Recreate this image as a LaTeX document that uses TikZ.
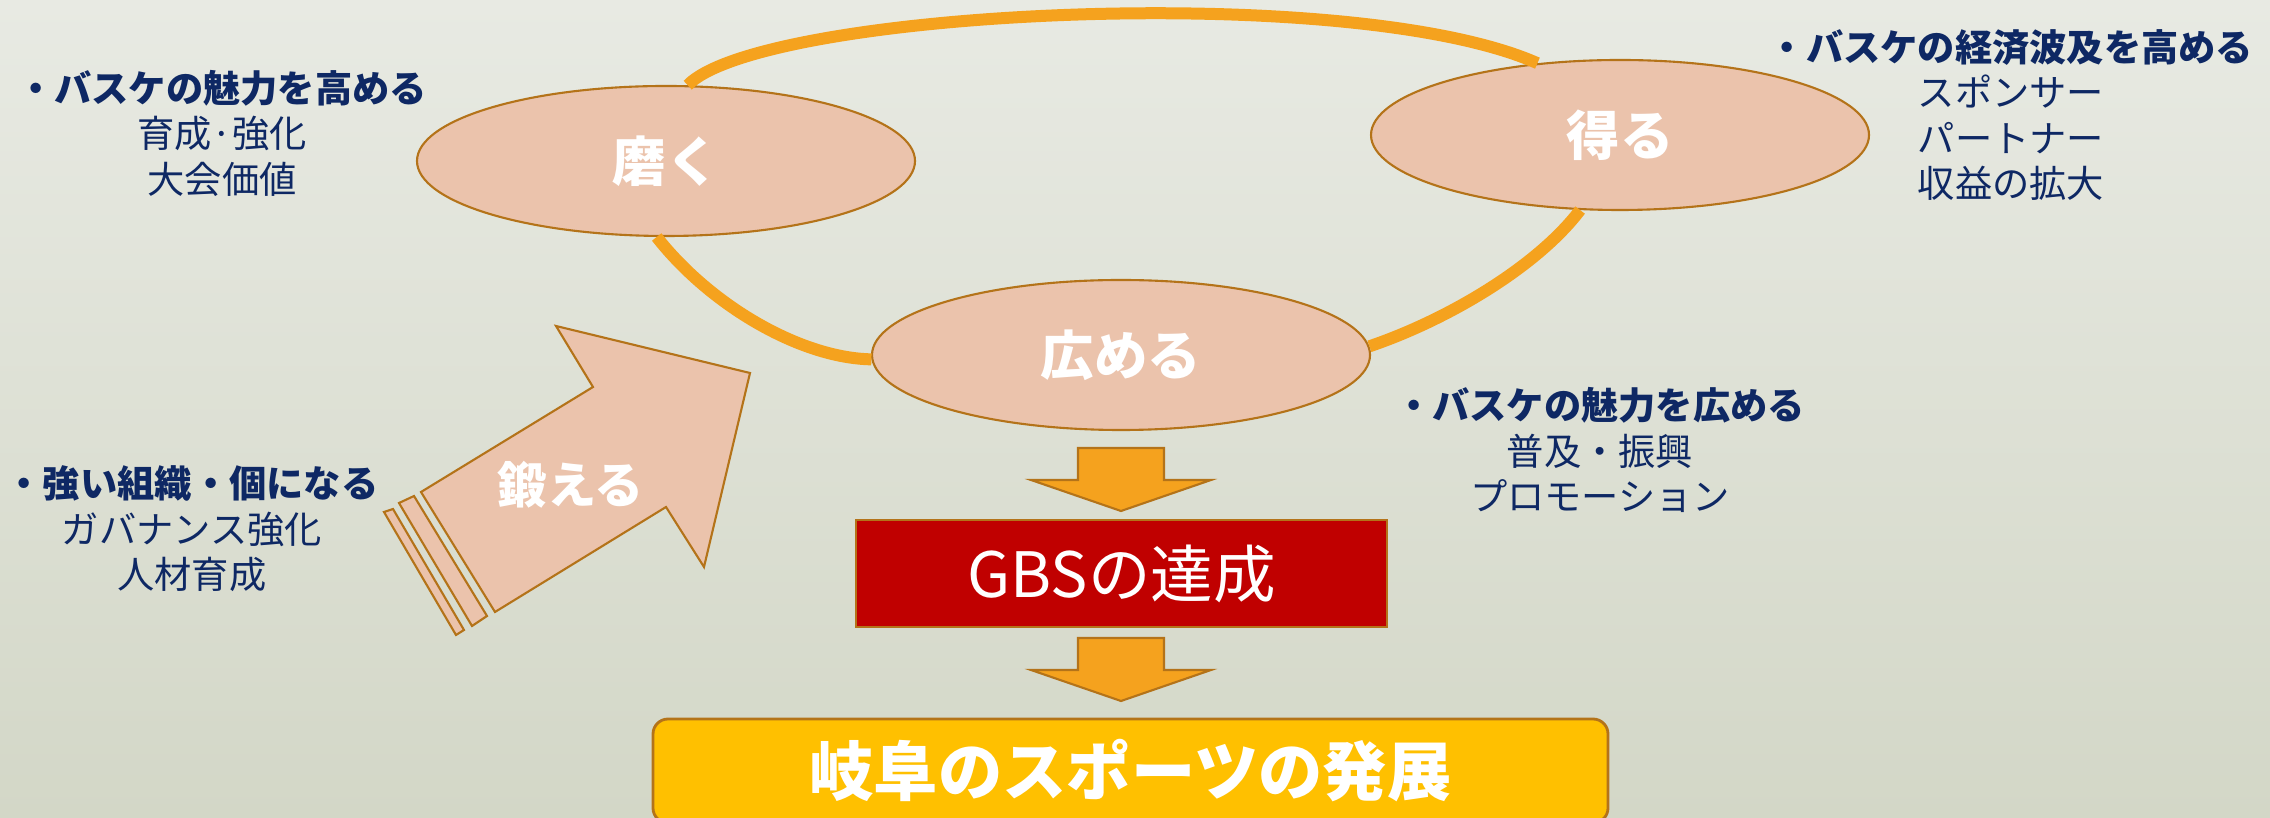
\documentclass[tikz,border=0pt]{standalone}
\usepackage{fontspec}
\setmainfont{Noto Sans CJK JP}
\usetikzlibrary{shapes.geometric}
\definecolor{bgtop}{RGB}{232,234,227}
\definecolor{bgbottom}{RGB}{211,215,199}
\definecolor{petal}{RGB}{235,195,172}
\definecolor{rim}{RGB}{180,115,25}
\definecolor{loopcol}{RGB}{245,162,30}
\definecolor{navy}{RGB}{14,40,100}
\definecolor{gbsred}{RGB}{192,0,0}
\definecolor{gold}{RGB}{255,192,0}

\begin{document}
\begin{tikzpicture}[
	petalnode/.style={ellipse, draw=rim, line width=0.6pt, fill=petal, minimum width=4.98cm, minimum height=1.5cm, text=white, font=\fontsize{15.2}{18}\selectfont\bfseries},
	loopline/.style={draw=loopcol, line width=0.12cm},
	caption/.style={align=center, text=navy, inner sep=0pt, font=\fontsize{10.6}{12.95}\selectfont},
	blockarrow/.style={fill=petal, draw=rim, line width=0.6pt},
	downarrow/.style={fill=loopcol, draw=rim, line width=0.6pt}]
	\useasboundingbox (0,0) rectangle (22.70,-8.18);
	\clip (0,0) rectangle (22.70,-8.18);
	\fill[top color=bgtop, bottom color=bgbottom] (0,0) rectangle (22.70,-8.18);

	\node[petalnode] (migaku) at (6.66,-1.61) {磨く};
	\node[petalnode] (eru) at (16.20,-1.35) {得る};
	\node[petalnode] (hiromeru) at (11.21,-3.55) {広める};

	\draw[loopline] (migaku.74) .. controls (7.60,-0.10) and (13.50,0.20) .. (eru.139);
	\draw[loopline] (migaku.263) .. controls (7.10,-3.05) and (8.00,-3.58) .. (hiromeru.181);
	\draw[loopline] (eru.242) .. controls (15.37,-2.67) and (14.47,-3.20) .. (hiromeru.2);

	\draw[blockarrow] (5.56,-3.26) -- (7.50,-3.73) -- (7.04,-5.67) -- (6.66,-5.07) -- (4.95,-6.12) -- (4.21,-4.92) -- (5.93,-3.87) -- cycle;
	\draw[blockarrow] (3.99,-5.03) -- (4.14,-4.96) -- (4.87,-6.16) -- (4.72,-6.26) -- cycle;
	\draw[blockarrow] (3.84,-5.12) -- (3.93,-5.09) -- (4.64,-6.30) -- (4.56,-6.35) -- cycle;
	\node[text=white, font=\fontsize{14}{16}\selectfont\bfseries] (kitaeru) at (5.71,-4.85) {鍛える};

	\foreach \y in {4.48,6.38}
		\draw[downarrow] (10.78,-\y) -- ++(0.86,0) -- ++(0,-0.32) -- ++(0.47,0) -- ++(-0.90,-0.31) -- ++(-0.90,0.31) -- ++(0.47,0) -- cycle;

	\node[draw=rim, line width=0.8pt, fill=gbsred, minimum width=5.31cm, minimum height=1.07cm, text=white, font=\fontsize{17.8}{20}\selectfont] (gbs) at (11.215,-5.735) {GBSの達成};
	\node[draw=rim, line width=0.8pt, fill=gold, rounded corners=0.15cm, minimum width=9.55cm, minimum height=1.04cm, text=white, font=\fontsize{18.3}{21}\selectfont\bfseries] (hatten) at (11.305,-7.71) {岐阜のスポーツの発展};

	\node[caption] (migakutxt) at (2.22,-1.33) {{\bfseries ・バスケの魅力を高める}\\育成·強化\\大会価値};
	\node[caption] (erutxt) at (20.11,-1.15) {{\bfseries ・バスケの経済波及を高める}\\スポンサー\\パートナー\\収益の拡大};
	\node[caption] (hiromerutxt) at (16.00,-4.50) {{\bfseries ・バスケの魅力を広める}\\普及・振興\\プロモーション};
	\node[caption] (kitaerutxt) at (1.92,-5.29) {{\bfseries ・強い組織・個になる}\\ガバナンス強化\\人材育成};
\end{tikzpicture}
\end{document}
